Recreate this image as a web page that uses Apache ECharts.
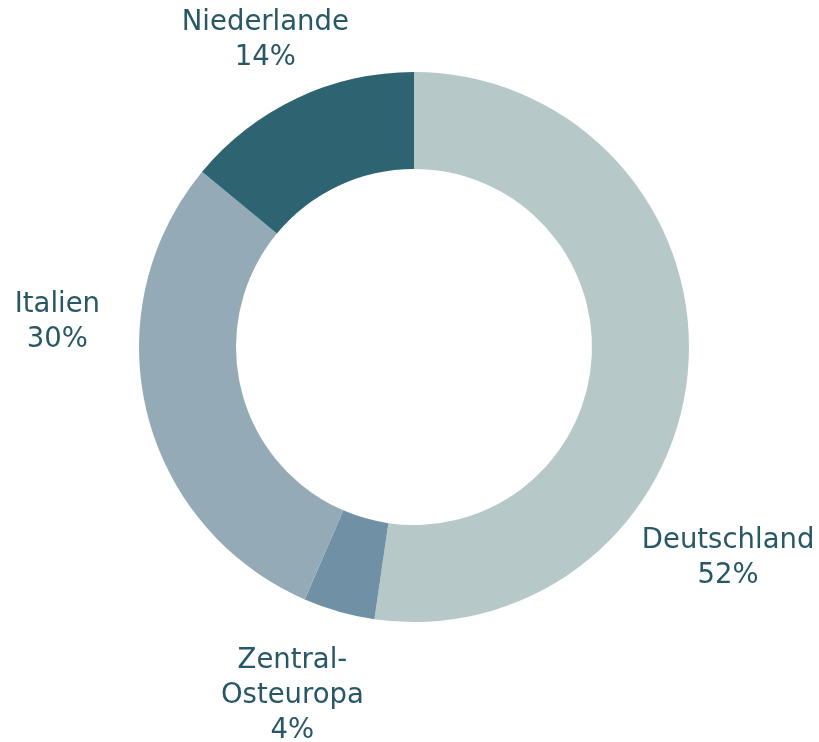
<!DOCTYPE html>
<html>
<head>
<meta charset="utf-8">
<script src="https://cdn.jsdelivr.net/npm/echarts@6/dist/echarts.min.js"></script>
<style>
  html, body { margin: 0; padding: 0; background: #fff; }
  #chart { width: 819px; height: 742px; }
</style>
</head>
<body>
<div id="chart"></div>
<script>
var regions = ['Deutschland', 'Zentral-\nOsteuropa', 'Italien', 'Niederlande'];
var shares = [52.3, 4.2, 29.5, 14.0];
var colors = ['#b7c8c9', '#7090a6', '#94abb7', '#2e6472'];
// label anchor for each slice (centre of the text block), as a share of the canvas
var labelPos = [[0.889, 0.752], [0.357, 0.938], [0.070, 0.434], [0.324, 0.054]];

var chart = echarts.init(document.getElementById('chart'));

var pieData = regions.map(function (name, i) {
    return { name: name, value: shares[i], itemStyle: { color: colors[i] } };
});

var option = {
    animation: false,
    series: [
        {
            type: 'pie',
            center: [414, 347],
            radius: [178, 275],
            startAngle: 90,
            clockwise: true,
            avoidLabelOverlap: false,
            itemStyle: { borderWidth: 0 },
            label: {
                show: true,
                position: 'outside',
                formatter: function (p) {
                    return p.name + '\n' + Math.round(p.value) + '%';
                },
                color: '#285766',
                fontFamily: 'DejaVu Sans',
                fontSize: 27.5,
                lineHeight: 35,
                align: 'center'
            },
            labelLine: { show: false },
            labelLayout: function (params) {
                var p = labelPos[params.dataIndex];
                return {
                    x: p[0] * chart.getWidth(),
                    y: p[1] * chart.getHeight(),
                    align: 'center',
                    verticalAlign: 'middle'
                };
            },
            emphasis: { disabled: true },
            data: pieData
        }
    ]
};

chart.setOption(option);
</script>
</body>
</html>
